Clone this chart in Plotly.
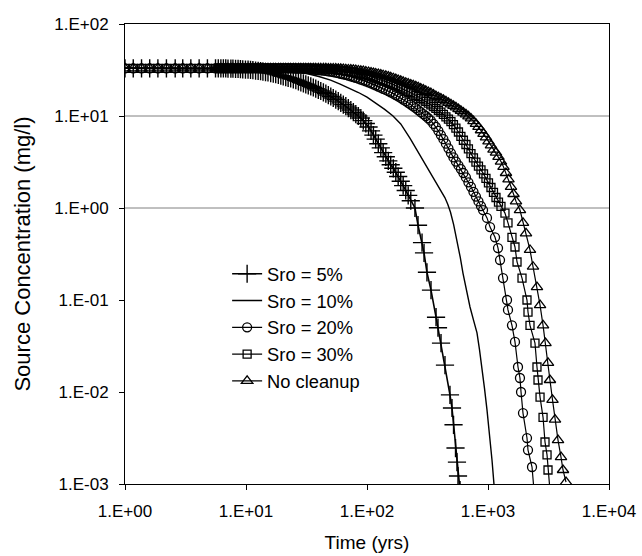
import plotly.graph_objects as go

# ---- data ----
# time steps (years) used in the dense early part of each run
t_grid = [1, 1.17, 1.37, 1.6, 1.87, 2.2, 2.6, 3.0, 3.5, 4.1, 4.8,
          5.6, 5.9, 6.2, 6.5, 6.8, 7.1, 7.5, 7.8, 8.2, 8.6, 9.0, 9.4, 9.9,
          10.4, 10.9, 11.4, 12, 12.6, 13.2, 13.8, 14.5, 15.2, 16, 16.8, 17.6,
          18.5, 19.4, 20.3, 21.3, 22.3, 23.4, 24.6, 25.8, 27.1, 28.4, 29.8,
          31.2, 32.7, 34.3, 36, 37.7, 39.6, 41.5, 43.6, 45.7, 47.9, 50.2,
          52.6, 55.2, 57.9, 60.7, 63.7, 66.8, 70.1, 73.5, 77.1, 80.8, 84.8,
          88.9, 93.2, 97.8, 103, 108, 113, 118, 124, 130, 136, 143, 150, 157,
          165, 173, 181, 190, 199, 209, 219, 230, 241, 253, 265, 278, 292,
          306, 321, 337, 354, 371, 389, 408, 428, 449, 471, 494, 518, 543,
          570, 597, 626, 657, 689, 723, 758, 795, 834, 875, 918, 962, 1009,
          1058, 1110, 1164, 1221, 1280, 1343, 1408, 1477, 1549, 1625, 1704]

# Sro = 5%
c_sro5_dense = [33] * 12 + [
    33, 32.9, 32.9, 32.9, 32.8, 32.8, 32.7, 32.6, 32.5, 32.3, 32.2, 32,
    31.9, 31.7, 31.5, 31.2, 31, 30.7, 30.4, 30, 29.7, 29.3, 28.9, 28.5,
    28, 27.5, 27, 26.5, 26, 25.6, 25, 24.5, 23.8, 23.2, 22.6, 22.1,
    21.5, 21, 20.4, 19.8, 19.2, 18.7, 18.1, 17.5, 16.9, 16.3, 15.7, 15.1,
    14.5, 13.9, 13.3, 12.8, 12.2, 11.6, 11, 10.5, 10, 9.5, 8.9, 8.3,
    7.6, 6.9, 6.2, 5.6, 5.0, 4.5, 4.0, 3.6, 3.25, 2.95, 2.7, 2.45,
    2.2, 1.95, 1.75, 1.55, 1.37, 1.2]
t_sro5_tail = [249, 264, 285, 296, 313, 338, 372, 386, 409, 441, 485, 504,
               519, 539, 554, 565, 587]
c_sro5_tail = [1.0, 0.65, 0.42, 0.325, 0.2, 0.128, 0.065, 0.05, 0.034, 0.0196,
               0.0093, 0.0067, 0.0044, 0.00246, 0.00173, 0.00122, 0.00086]

# Sro = 10% (line only)
t_sro10 = [1, 10, 15, 20, 25, 30, 40, 50, 60, 72, 85, 100, 120, 140, 164, 190,
           227, 260, 313, 360, 410, 440, 465, 490, 520, 554, 590, 621, 660, 710,
           760, 811, 850, 892, 935, 981, 1040, 1080, 1120, 1150]
c_sro10 = [33, 33, 32.7, 31.9, 30.8, 29.5, 26.9, 24.5, 22.2, 20.0, 18.0, 16,
           13.7, 11.8, 10, 8.2, 5.7, 4.2, 2.8, 2.05, 1.55, 1.3, 1.1, 0.9, 0.66,
           0.45, 0.29, 0.196, 0.13, 0.084, 0.06, 0.044, 0.029, 0.0187, 0.011,
           0.0064, 0.0032, 0.0018, 0.001, 0.0007]

# Sro = 20%
c_sro20_dense = [33] * 40 + [
    33, 32.9, 32.85, 32.8, 32.75, 32.7, 32.55, 32.4, 32.25, 32.1, 31.95, 31.8,
    31.6, 31.4, 31.15, 30.9, 30.6, 30.3, 29.95, 29.6, 29.2, 28.8, 28.4, 28,
    27.5, 27, 26.5, 26, 25.45, 24.9, 24.35, 23.8, 23.2, 22.6, 22.05, 21.5,
    20.9, 20.3, 19.75, 19.2, 18.65, 18.1, 17.5, 16.9, 16.3, 15.7, 15.1, 14.5,
    13.9, 13.3, 12.75, 12.2, 11.6, 11, 10.5, 10, 9.45, 8.9, 8.2, 7.6,
    6.9, 6.2, 5.6, 5.0, 4.45, 3.95, 3.55, 3.2, 2.9, 2.65, 2.4, 2.15,
    1.9, 1.7, 1.5, 1.33, 1.18, 1.05]
t_sro20_tail = [910, 981, 1040, 1143, 1210, 1257, 1331, 1436, 1463, 1578, 1671,
                1770, 1837, 1875, 1946, 2100, 2141, 2311, 2400]
c_sro20_tail = [0.95, 0.78, 0.62, 0.48, 0.367, 0.272, 0.173, 0.10, 0.078, 0.053,
                0.035, 0.0187, 0.0142, 0.010, 0.0059, 0.00316, 0.00234, 0.00153,
                0.00085]

# Sro = 30%
c_sro30_dense = [33] * 48 + [
    32.95, 32.9, 32.85, 32.8, 32.75, 32.7, 32.55, 32.4, 32.25, 32.1, 31.95, 31.8,
    31.6, 31.4, 31.15, 30.9, 30.55, 30.2, 29.85, 29.5, 29.1, 28.7, 28.3, 27.9,
    27.4, 26.9, 26.4, 25.9, 25.35, 24.8, 24.3, 23.8, 23.2, 22.6, 22, 21.4,
    20.8, 20.2, 19.65, 19.1, 18.55, 18, 17.4, 16.8, 16.2, 15.6, 15, 14.4,
    13.8, 13.2, 12.65, 12.1, 11.55, 11, 10.4, 9.8, 9.25, 8.7, 8.05, 7.4,
    6.7, 6.0, 5.45, 4.9, 4.4, 3.9, 3.5, 3.15, 2.85, 2.6, 2.35, 2.1,
    1.88, 1.67, 1.48, 1.3, 1.16, 1.04]
t_sro30_tail = [1381, 1463, 1578, 1671, 1737, 1910, 2100, 2141, 2224, 2445, 2540,
                2590, 2692, 2851, 2959, 3075, 3133, 3251]
c_sro30_tail = [0.88, 0.69, 0.48, 0.377, 0.259, 0.173, 0.10, 0.074, 0.053, 0.034,
                0.0187, 0.0135, 0.0088, 0.0053, 0.00286, 0.00207, 0.00142, 0.00086]

# No cleanup
c_none_dense = [33] * 54 + [
    32.95, 32.9, 32.85, 32.8, 32.75, 32.7, 32.6, 32.5, 32.35, 32.2, 32.05, 31.9,
    31.7, 31.5, 31.25, 31, 30.7, 30.4, 30.05, 29.7, 29.35, 29, 28.6, 28.2,
    27.75, 27.3, 26.8, 26.3, 25.75, 25.2, 24.65, 24.1, 23.55, 23, 22.5, 22,
    21.5, 21, 20.45, 19.9, 19.35, 18.8, 18.25, 17.7, 17.1, 16.5, 16, 15.5,
    14.95, 14.4, 13.9, 13.4, 12.9, 12.4, 11.9, 11.4, 10.9, 10.4, 9.9, 9.4,
    8.8, 8.2, 7.6, 7.0, 6.4, 5.85, 5.3, 4.8, 4.3, 4.0, 3.6, 3.2,
    2.8, 2.4, 2.05, 1.7, 1.42, 1.18]
t_none_tail = [1837, 1946, 2061, 2224, 2355, 2540, 2692, 2851, 2987, 3133, 3251,
               3413, 3579, 3790, 4012, 4168, 4413]
c_none_tail = [0.95, 0.69, 0.53, 0.35, 0.23, 0.138, 0.088, 0.053, 0.034, 0.0207,
               0.0135, 0.0082, 0.005, 0.003, 0.00196, 0.00142, 0.00105]

names = ["Sro = 5%", "Sro = 10%", "Sro = 20%", "Sro = 30%", "No cleanup"]

x_tickvals = [1, 10, 100, 1000, 10000]
x_ticktext = ["1.E+00", "1.E+01", "1.E+02", "1.E+03", "1.E+04"]
y_tickvals = [0.001, 0.01, 0.1, 1, 10, 100]
y_ticktext = ["1.E-03", "1.E-02", "1.E-01", "1.E+00", "1.E+01", "1.E+02"]


def series(dense, t_tail, c_tail):
    return t_grid[:len(dense)] + t_tail, dense + c_tail


FONT = "Liberation Sans, Arial, sans-serif"
fig = go.Figure()

x5, y5 = series(c_sro5_dense, t_sro5_tail, c_sro5_tail)
x20, y20 = series(c_sro20_dense, t_sro20_tail, c_sro20_tail)
x30, y30 = series(c_sro30_dense, t_sro30_tail, c_sro30_tail)
xn, yn = series(c_none_dense, t_none_tail, c_none_tail)

fig.add_trace(go.Scatter(x=x5, y=y5, name=names[0], mode="lines+markers",
                         line=dict(color="black", width=1.6),
                         marker=dict(symbol="cross-thin", size=13, color="black",
                                     line=dict(color="black", width=1.4))))
fig.add_trace(go.Scatter(x=t_sro10, y=c_sro10, name=names[1], mode="lines",
                         line=dict(color="black", width=1.4)))
fig.add_trace(go.Scatter(x=x20, y=y20, name=names[2], mode="lines+markers",
                         line=dict(color="black", width=1.2),
                         marker=dict(symbol="circle-open", size=9, color="black",
                                     line=dict(color="black", width=1.3))))
fig.add_trace(go.Scatter(x=x30, y=y30, name=names[3], mode="lines+markers",
                         line=dict(color="black", width=1.2),
                         marker=dict(symbol="square-open", size=8, color="black",
                                     line=dict(color="black", width=1.3))))
fig.add_trace(go.Scatter(x=xn, y=yn, name=names[4], mode="lines+markers",
                         line=dict(color="black", width=1.2),
                         marker=dict(symbol="triangle-up-open", size=10, color="black",
                                     line=dict(color="black", width=1.3))))

for yd in (0.8, 0.6):
    fig.add_shape(type="line", xref="x domain", yref="y domain", x0=0, x1=1,
                  y0=yd, y1=yd, line=dict(color="#808080", width=1), layer="below")

axis_common = dict(type="log", showgrid=False, zeroline=False, showline=True,
                   linecolor="black", linewidth=1, mirror=True, ticks="outside",
                   ticklen=5, tickcolor="black", automargin=False,
                   tickfont=dict(family=FONT, size=17, color="black"))

fig.update_layout(
    width=642, height=556,
    margin=dict(l=125, r=33, t=24, b=72),
    paper_bgcolor="white", plot_bgcolor="white",
    font=dict(family=FONT, color="black"),
    xaxis=dict(range=[0, 4], tickvals=x_tickvals, ticktext=x_ticktext,
               ticklabelstandoff=7,
               title=dict(text="Time (yrs)", font=dict(family=FONT, size=19), standoff=15),
               **axis_common),
    yaxis=dict(range=[-3, 2], tickvals=y_tickvals, ticktext=y_ticktext,
               ticklabelstandoff=7,
               title=dict(text="Source Concentration (mg/l)", font=dict(family=FONT, size=22), standoff=17),
               **axis_common),
    legend=dict(x=0.211, y=0.497, xanchor="left", yanchor="top", bgcolor="rgba(0,0,0,0)",
                font=dict(family=FONT, size=18.3, color="black"), tracegroupgap=0),
    showlegend=True,
)

fig.write_html("out.html")
